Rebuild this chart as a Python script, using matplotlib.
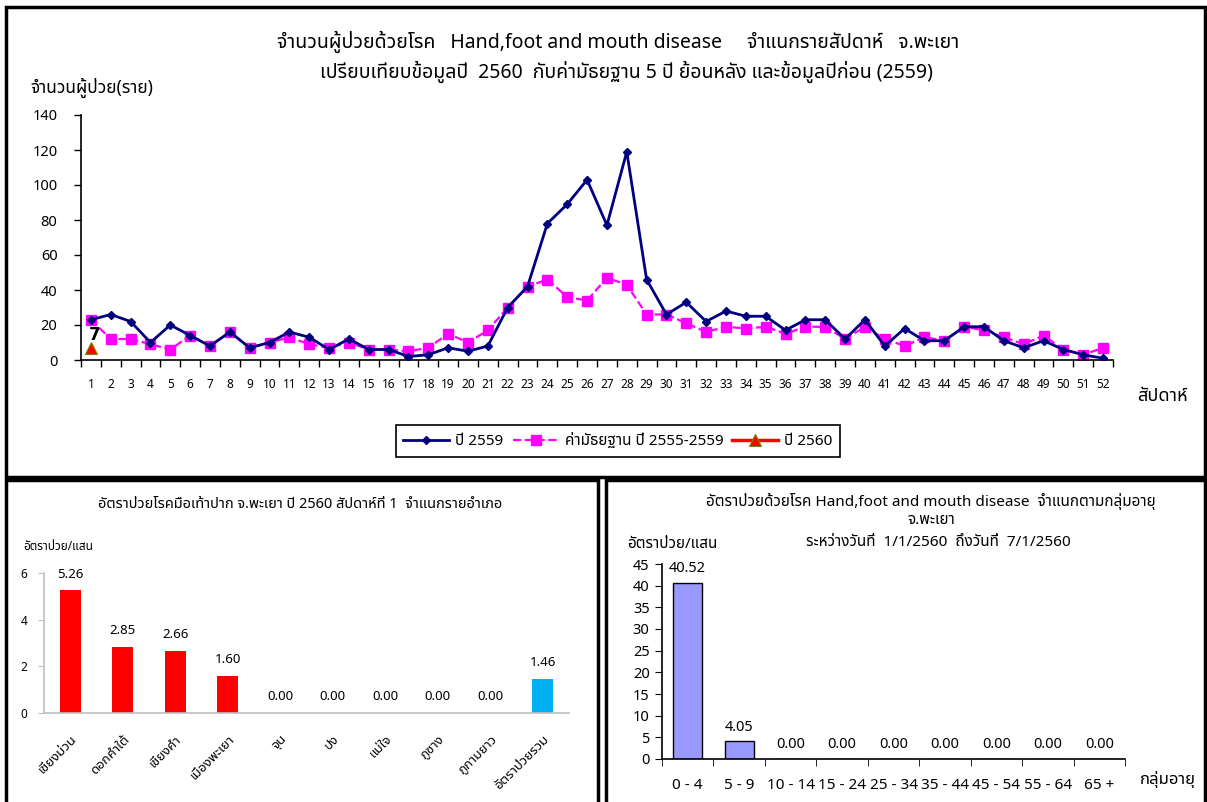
import matplotlib
matplotlib.use("Agg")
import matplotlib.pyplot as plt
from matplotlib import font_manager
from matplotlib.ft2font import FT2Font
from matplotlib.patches import Rectangle
import numpy as np

# ---------------- data ----------------
weeks = list(range(1, 53))
y2559 = [23, 26, 22, 10, 20, 14, 8, 16, 7, 10, 16, 13, 6, 12, 6, 6, 2, 3, 7, 5,
         8, 30, 42, 78, 89, 103, 77, 119, 46, 26, 33, 22, 28, 25, 25, 17, 23, 23, 12, 23,
         8, 18, 11, 11, 19, 19, 11, 7, 11, 6, 3, 1]
median_2555_2559 = [23, 12, 12, 9, 6, 14, 8, 16, 7, 10, 13, 9, 7, 10, 6, 6, 5, 7, 15, 10,
                    17, 30, 42, 46, 36, 34, 47, 43, 26, 26, 21, 16, 19, 18, 19, 15, 19, 19, 12, 19,
                    12, 8, 13, 11, 19, 17, 13, 9, 14, 6, 3, 7]
weeks_2560 = [1]
y2560 = [7]

districts = ["เชียงม่วน", "ดอกคำใต้", "เชียงคำ", "เมืองพะเยา", "จุน", "ปง", "แม่ใจ",
             "ภูซาง", "ภูกามยาว", "อัตราป่วยรวม"]
district_rates = [5.26, 2.85, 2.66, 1.60, 0.00, 0.00, 0.00, 0.00, 0.00, 1.46]

age_groups = ["0 - 4", "5 - 9", "10 - 14", "15 - 24", "25 - 34", "35 - 44",
              "45 - 54", "55 - 64", "65 +"]
age_rates = [40.52, 4.05, 0.00, 0.00, 0.00, 0.00, 0.00, 0.00, 0.00]

# ---------------- fonts ----------------
def find_thai_fonts():
    names = []
    for f in font_manager.fontManager.ttflist:
        try:
            cmap = FT2Font(f.fname).get_charmap()
        except Exception:
            continue
        if 0x0E01 in cmap and 0x0E33 in cmap and 0x0E49 in cmap:
            if f.name not in names:
                names.append(f.name)
    return names

thai = find_thai_fonts()
pref = ["Tahoma", "Noto Sans Thai", "Noto Sans Thai UI", "Loma", "Garuda", "Sarabun",
        "Kinnari", "Waree", "Umpush", "Norasi"]
ordered = [p for p in pref if p in thai] + [t for t in thai if t not in pref]
families = (ordered[:1] if ordered else []) + ["DejaVu Sans"]
plt.rcParams["font.family"] = families

W, H = 1207, 802
fig = plt.figure(figsize=(W / 100, H / 100), dpi=100)
fig.patch.set_facecolor("white")

def fx(px):
    return px / W

def fy(py):
    return 1 - py / H

# panel borders
for (x0, y0, x1, y1) in [(6, 7, 1205, 477), (6, 480, 598, 805), (606, 480, 1205, 805)]:
    fig.patches.append(Rectangle((fx(x0), fy(y1)), fx(x1 - x0), (y1 - y0) / H,
                                 transform=fig.transFigure, fill=False,
                                 edgecolor="black", linewidth=2.5, zorder=0))

# ---------------- top chart ----------------
ax1 = fig.add_axes([fx(81), fy(360), fx(1113 - 81), (360 - 115) / H])
ax1.plot(weeks, y2559, color="#000080", linewidth=2, marker="D", markersize=4,
         label="ปี 2559", zorder=3)
ax1.plot(weeks, median_2555_2559, color="#FF00FF", linewidth=1.6, linestyle="--",
         marker="s", markersize=7, label="ค่ามัธยฐาน ปี 2555-2559", zorder=2)
ax1.plot(weeks_2560, y2560, color="#FF0000", linewidth=2.5, marker="^", markersize=8,
         markeredgecolor="#808000", markeredgewidth=0.8, label="ปี 2560", zorder=4)
for wx, wy in zip(weeks_2560, y2560):
    ax1.annotate(str(wy), (wx, wy), xytext=(3, 3), textcoords="offset points",
                 ha="center", va="bottom", fontsize=12, fontweight="bold",
                 color="black", zorder=6, family=["DejaVu Sans"])
ax1.set_xlim(0.5, 52.5)
ax1.set_ylim(0, 140)
ax1.set_yticks(range(0, 141, 20))
ax1.set_xticks(weeks)
ax1.set_xticklabels([str(w) for w in weeks], fontsize=8.5)
ax1.set_xticks(np.arange(0.5, 53, 1), minor=True)
ax1.tick_params(axis="x", which="major", length=0, pad=13)
ax1.tick_params(axis="x", which="minor", length=5, direction="out", width=1)
ax1.tick_params(axis="y", length=5, width=1, pad=12, labelsize=10.5)
for s in ["top", "right"]:
    ax1.spines[s].set_visible(False)
for s in ["left", "bottom"]:
    ax1.spines[s].set_linewidth(1.2)
    ax1.spines[s].set_color("black")

fig.text(fx(618), fy(42), "จำนวนผู้ป่วยด้วยโรค   Hand,foot and mouth disease     จำแนกรายสัปดาห์   จ.พะเยา",
         ha="center", va="center", fontsize=14)
fig.text(fx(626), fy(72), "เปรียบเทียบข้อมูลปี  2560  กับค่ามัธยฐาน 5 ปี ย้อนหลัง และข้อมูลปีก่อน (2559)",
         ha="center", va="center", fontsize=14)
fig.text(fx(30), fy(88), "จำนวนผู้ป่วย(ราย)", ha="left", va="center", fontsize=12.5)
fig.text(fx(1137), fy(396), "สัปดาห์", ha="left", va="center", fontsize=13)

leg = ax1.legend(loc="center", bbox_to_anchor=(fx(618), fy(441)),
                 bbox_transform=fig.transFigure, ncol=3, fancybox=False,
                 edgecolor="black", framealpha=1, fontsize=11, handlelength=3,
                 columnspacing=0.6, handletextpad=0.4, borderpad=0.5)
leg.get_frame().set_linewidth(1.2)

# ---------------- bottom-left chart ----------------
ax2 = fig.add_axes([fx(44), fy(713), fx(569 - 44), (713 - 573) / H])
xpos = np.arange(len(districts))
colors2 = ["#FF0000"] * (len(districts) - 1) + ["#00B0F0"]
ax2.bar(xpos, district_rates, width=0.4, color=colors2)
for xi, v in zip(xpos, district_rates):
    ax2.annotate(f"{v:.2f}", (xi, v), xytext=(0, 7), textcoords="offset points",
                 ha="center", va="bottom", fontsize=9.5)
ax2.set_xlim(-0.5, len(districts) - 0.5)
ax2.set_ylim(0, 6)
ax2.set_yticks([0, 2, 4, 6])
ax2.set_xticks(xpos)
ax2.set_xticklabels(districts, rotation=45, ha="right", rotation_mode="anchor", fontsize=9.5)
ax2.tick_params(axis="x", length=0, pad=14)
ax2.tick_params(axis="y", length=4, labelsize=8.5, pad=8, color="#BFBFBF")
for s in ["top", "right"]:
    ax2.spines[s].set_visible(False)
for s in ["left", "bottom"]:
    ax2.spines[s].set_color("#BFBFBF")
    ax2.spines[s].set_linewidth(1.2)

fig.text(fx(300), fy(504), "อัตราป่วยโรคมือเท้าปาก จ.พะเยา ปี 2560 สัปดาห์ที่ 1  จำแนกรายอำเภอ",
         ha="center", va="center", fontsize=10.5)
fig.text(fx(23), fy(546), "อัตราป่วย/แสน", ha="left", va="center", fontsize=8.5)

# ---------------- bottom-right chart ----------------
ax3 = fig.add_axes([fx(662), fy(759), fx(1125 - 662), (759 - 564) / H])
apos = np.arange(len(age_groups))
ax3.bar(apos, age_rates, width=0.57, color="#9999FF", edgecolor="black", linewidth=1)
for xi, v in zip(apos, age_rates):
    ax3.annotate(f"{v:.2f}", (xi, v), xytext=(0, 5), textcoords="offset points",
                 ha="center", va="bottom", fontsize=10.5)
ax3.set_xlim(-0.5, len(age_groups) - 0.5)
ax3.set_ylim(0, 45)
ax3.set_yticks(range(0, 46, 5))
ax3.set_xticks(apos)
ax3.set_xticklabels(age_groups, fontsize=11)
ax3.set_xticks(np.arange(-0.5, len(age_groups), 1), minor=True)
ax3.tick_params(axis="x", which="major", length=0, pad=14)
ax3.tick_params(axis="x", which="minor", length=5, direction="out")
ax3.tick_params(axis="y", length=5, labelsize=10.5, pad=4)
for s in ["top", "right"]:
    ax3.spines[s].set_visible(False)
for s in ["left", "bottom"]:
    ax3.spines[s].set_color("black")
    ax3.spines[s].set_linewidth(1.2)

fig.text(fx(931), fy(501), "อัตราป่วยด้วยโรค Hand,foot and mouth disease  จำแนกตามกลุ่มอายุ",
         ha="center", va="center", fontsize=11)
fig.text(fx(931), fy(521), "จ.พะเยา", ha="center", va="center", fontsize=11)
fig.text(fx(938), fy(542), "ระหว่างวันที่  1/1/2560  ถึงวันที่  7/1/2560",
         ha="center", va="center", fontsize=11)
fig.text(fx(627), fy(545), "อัตราป่วย/แสน", ha="left", va="center", fontsize=11)
fig.text(fx(1140), fy(779), "กลุ่มอายุ", ha="left", va="center", fontsize=12)

fig.savefig("out.png", dpi=100, facecolor="white")
